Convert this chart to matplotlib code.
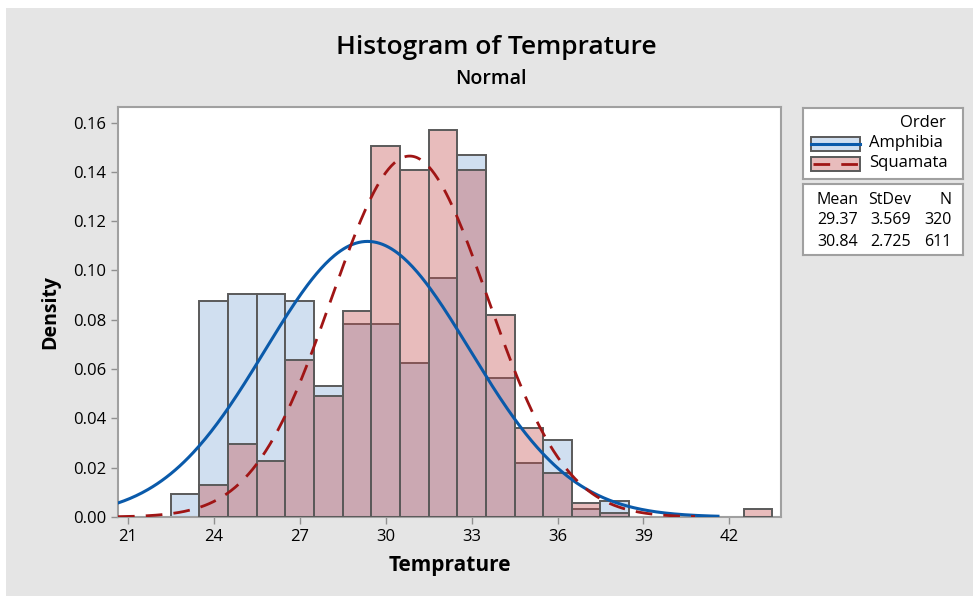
import numpy as np
import matplotlib.pyplot as plt
from matplotlib.patches import Rectangle

# bin centres (bin width 1) and density
amph_bins = [23, 24, 25, 26, 27, 28, 29, 30, 31, 32, 33, 34, 35, 36, 37, 38]
amph_density = [0.0094, 0.0875, 0.0906, 0.0906, 0.0875, 0.0531, 0.0781, 0.0781,
                0.0625, 0.0969, 0.1469, 0.0563, 0.0219, 0.0313, 0.0031, 0.0063]
squa_bins = [24, 25, 26, 27, 28, 29, 30, 31, 32, 33, 34, 35, 36, 37, 38, 43]
squa_density = [0.0131, 0.0295, 0.0229, 0.0638, 0.0491, 0.0835, 0.1506, 0.1408,
                0.1571, 0.1408, 0.0818, 0.0360, 0.0180, 0.0058, 0.0016, 0.0033]

groups = ["Amphibia", "Squamata"]
means = [29.37, 30.84]
stdevs = [3.569, 2.725]
counts = [320, 611]

x_ticks = [21, 24, 27, 30, 33, 36, 39, 42]
y_ticks = [0.00, 0.02, 0.04, 0.06, 0.08, 0.10, 0.12, 0.14, 0.16]

W, H = 973, 596
plt.rcParams['font.family'] = ['Open Sans', 'DejaVu Sans']

fig = plt.figure(figsize=(W / 100, H / 100), dpi=100, facecolor='white')
bg = '#e5e5e5'
fig.patches.append(Rectangle((6 / W, 0), 1, 1 - 8 / H, transform=fig.transFigure,
                             facecolor=bg, edgecolor='none', zorder=-10))


def px_axes(x0, y0, x1, y1):
    return fig.add_axes([x0 / W, 1 - y1 / H, (x1 - x0) / W, (y1 - y0) / H])


ax = px_axes(118, 107, 781, 517)

blue_fill = '#d0dff0'
red_fill = (0.77, 0.31, 0.31, 0.38)
edge = '#5a5a5a'

ax.bar(amph_bins, amph_density, width=1, color=blue_fill, edgecolor=edge, linewidth=1.4, zorder=2)
ax.bar(squa_bins, squa_density, width=1, color=red_fill, edgecolor=edge, linewidth=1.4, zorder=3)

# fitted normal curves
xa = np.linspace(20.66, 41.6, 400)
ax.plot(xa, np.exp(-0.5 * ((xa - means[0]) / stdevs[0]) ** 2) / (stdevs[0] * np.sqrt(2 * np.pi)),
        color='#0a5aaa', lw=2.2, zorder=4)
xs = np.linspace(20.66, 40.8, 400)
ax.plot(xs, np.exp(-0.5 * ((xs - means[1]) / stdevs[1]) ** 2) / (stdevs[1] * np.sqrt(2 * np.pi)),
        color='#a01515', lw=2.0, dashes=(6, 4), zorder=5)

ax.set_xlim(20.66, 43.8)
ax.set_ylim(0, 0.1663)
ax.set_xticks(x_ticks)
ax.set_yticks(y_ticks)
ax.set_yticklabels(["%.2f" % v for v in y_ticks])
ax.tick_params(axis='both', direction='out', length=5, width=1, color='#909090',
               labelsize=12, labelcolor='black')
for s in ax.spines.values():
    s.set_color('#a0a0a0')
    s.set_linewidth(1.5)

ax.set_xlabel("Temprature", fontsize=15, fontweight='bold', labelpad=7)
ax.set_ylabel("Density", fontsize=14, fontweight='bold', labelpad=9)

fig.text(496 / W, 1 - 48 / H, "Histogram of Temprature", ha='center', va='center',
         fontsize=19, fontweight='semibold')
fig.text(491 / W, 1 - 79 / H, "Normal", ha='center', va='center', fontsize=14, fontweight='semibold')

# legend box
lg = px_axes(803, 108, 963, 179)
lg.set_xlim(803, 963)
lg.set_ylim(179, 108)
lg.set_xticks([])
lg.set_yticks([])
for s in lg.spines.values():
    s.set_color('#a0a0a0')
    s.set_linewidth(1.5)
lg.text(946, 123, "Order", ha='right', va='center', fontsize=12)
lg.add_patch(Rectangle((811, 137), 49, 14, facecolor=blue_fill, edgecolor=edge, lw=1.4))
lg.plot([811, 860], [144, 144], color='#0a5aaa', lw=2.2)
lg.text(869, 143, groups[0], ha='left', va='center', fontsize=12)
lg.add_patch(Rectangle((811, 157), 49, 14, facecolor=red_fill, edgecolor=edge, lw=1.4))
lg.plot([813, 858], [164, 164], color='#a01515', lw=2.0, dashes=(6, 4))
lg.text(869, 163, groups[1], ha='left', va='center', fontsize=12)

# stats table
tb = px_axes(803, 184, 963, 255)
tb.set_xlim(803, 963)
tb.set_ylim(255, 184)
tb.set_xticks([])
tb.set_yticks([])
for s in tb.spines.values():
    s.set_color('#a0a0a0')
    s.set_linewidth(1.5)
tb.text(838, 200, "Mean", ha='center', va='center', fontsize=11.5)
tb.text(890, 200, "StDev", ha='center', va='center', fontsize=11.5)
tb.text(952, 200, "N", ha='right', va='center', fontsize=11.5)
for i in range(2):
    yy = 220 + 22 * i
    tb.text(838, yy, "%.2f" % means[i], ha='center', va='center', fontsize=11.5)
    tb.text(891, yy, "%.3f" % stdevs[i], ha='center', va='center', fontsize=11.5)
    tb.text(952, yy, "%d" % counts[i], ha='right', va='center', fontsize=11.5)

fig.savefig("out.png", dpi=100, facecolor=fig.get_facecolor())
